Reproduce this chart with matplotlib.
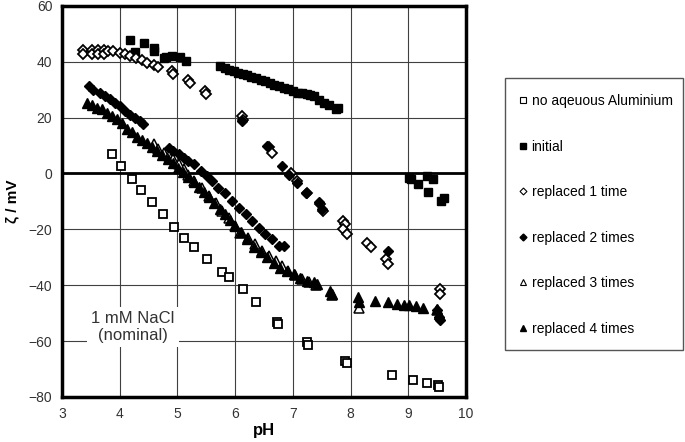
import matplotlib
matplotlib.use("Agg")
import matplotlib.pyplot as plt
from matplotlib.lines import Line2D
from matplotlib.patches import Rectangle

plt.rcParams['font.family'] = ['Liberation Sans', 'DejaVu Sans']

# --- data ---
no_al_x = [3.86, 4.03, 4.21, 4.37, 4.56, 4.75, 4.94, 5.12, 5.29, 5.51, 5.77, 5.90,
           6.14, 6.36, 6.73, 6.74, 7.24, 7.26, 7.91, 7.93, 8.72, 9.08, 9.33, 9.52, 9.53]
no_al_y = [6.8, 2.8, -1.9, -6.0, -10.2, -14.6, -19.3, -23.0, -26.3, -30.5, -35.2, -37.0,
           -41.4, -46.0, -53.1, -53.8, -60.4, -61.3, -67.0, -68.0, -72.0, -73.9, -75.1, -75.6, -76.5]

initial_x = [4.17, 4.27, 4.42, 4.59, 4.60, 4.76, 4.80, 4.90, 5.05, 5.14,
             5.74, 5.82, 5.90, 5.98, 6.05, 6.13, 6.20, 6.28, 6.36, 6.44, 6.52, 6.60, 6.68, 6.76,
             6.84, 6.92, 7.00, 7.08, 7.16, 7.24, 7.30, 7.36, 7.45, 7.54, 7.62, 7.74, 7.78,
             9.01, 9.04, 9.17, 9.32, 9.34, 9.42, 9.57, 9.61]
initial_y = [47.6, 43.5, 46.7, 44.9, 43.7, 41.3, 41.5, 41.9, 41.5, 40.1,
             38.3, 37.7, 37.1, 36.6, 36.1, 35.6, 35.1, 34.6, 34.1, 33.6, 33.0, 32.4, 31.8, 31.2,
             30.6, 30.1, 29.5, 28.9, 28.6, 28.3, 28.0, 27.6, 26.2, 25.2, 24.5, 22.9, 23.5,
             -1.5, -1.9, -3.9, -1.0, -6.7, -2.1, -9.9, -8.7]

rep1_x = [3.37, 3.37, 3.52, 3.52, 3.63, 3.63, 3.72, 3.72, 3.80, 3.89, 4.00, 4.09, 4.18,
          4.28, 4.38, 4.48, 4.59, 4.67, 4.90, 4.92, 5.19, 5.21, 5.48, 5.50, 6.12, 6.14,
          6.58, 6.64, 6.96, 7.07, 7.25, 7.47, 7.52, 7.86, 7.91, 7.86, 7.94, 8.29, 8.35,
          8.61, 8.64, 9.55, 9.55]
rep1_y = [44.3, 42.6, 44.3, 42.6, 44.3, 42.6, 44.3, 42.6, 43.9, 43.7, 43.1, 42.7, 41.9,
          41.3, 40.7, 39.5, 38.9, 38.0, 36.8, 35.6, 33.6, 32.4, 29.6, 28.4, 20.4, 19.2,
          9.4, 7.4, 0.2, -2.8, -6.9, -11.0, -13.5, -17.0, -18.2, -20.0, -21.8, -24.8, -26.5,
          -30.7, -32.5, -41.4, -43.2]

rep2_x = [3.46, 3.54, 3.66, 3.75, 3.83, 3.92, 4.01, 4.09, 4.18, 4.27, 4.35, 4.41,
          4.85, 4.93, 5.02, 5.11, 5.19, 5.28, 5.40, 5.51, 5.60, 5.71, 5.83, 5.95, 6.06,
          6.18, 6.29, 6.41, 6.52, 6.64, 6.76, 6.84,
          6.12, 6.55, 6.81, 6.93, 7.07, 7.22, 7.45, 7.51, 8.64, 9.50, 9.53, 9.55]
rep2_y = [31.2, 30.0, 28.8, 27.6, 26.8, 25.2, 24.0, 22.5, 21.0, 19.9, 18.7, 17.5,
          9.2, 8.0, 6.8, 5.6, 4.4, 3.2, 0.8, -1.0, -2.8, -5.1, -7.1, -9.9, -12.3,
          -14.6, -17.0, -19.4, -21.8, -23.6, -26.0, -26.0,
          18.7, 9.8, 2.6, -0.4, -3.3, -6.9, -10.2, -12.9, -27.8, -49.0, -51.5, -52.5]

rep3_x = [4.59, 4.67, 4.76, 4.85, 4.93, 5.02, 5.11, 5.19, 5.28, 5.43, 5.54, 5.66, 5.77,
          5.89, 6.00, 6.09, 6.23, 6.35, 6.47, 6.58, 6.70, 6.81, 6.92, 7.04, 7.16, 7.28,
          7.40, 7.68, 8.15, 9.50]
rep3_y = [10.4, 8.6, 7.4, 6.2, 5.0, 3.2, 1.4, -0.4, -2.8, -5.1, -8.1, -10.5, -13.5,
          -15.8, -18.8, -21.2, -23.0, -25.4, -27.8, -29.5, -31.3, -33.1, -35.0, -36.5, -37.8, -39.0,
          -40.0, -43.5, -48.0, -49.0]

rep4_x = [3.43, 3.52, 3.60, 3.69, 3.78, 3.86, 3.95, 4.04, 4.12, 4.21,
          4.30, 4.38, 4.47, 4.56, 4.65, 4.74, 4.83, 4.92, 5.01, 5.10,
          5.19, 5.28, 5.37, 5.46, 5.55, 5.64, 5.73, 5.82, 5.91, 6.00,
          6.10, 6.21, 6.32, 6.44, 6.55, 6.67, 6.78, 6.90, 7.02, 7.13,
          7.25, 7.36, 7.42, 7.65, 7.68, 8.12, 8.15, 8.43, 8.64, 8.81,
          8.93, 9.01, 9.13, 9.26, 9.50, 9.53]
rep4_y = [25.2, 24.6, 23.5, 22.9, 21.7, 20.5, 19.3, 18.1, 16.0, 14.8,
          13.2, 11.9, 10.8, 9.4, 8.0, 6.6, 5.0, 3.6, 2.0, 0.4,
          -1.2, -3.0, -4.8, -6.6, -8.6, -10.6, -12.6, -14.6, -16.6, -18.8,
          -21.0, -23.4, -26.5, -28.3, -30.1, -31.9, -33.7, -34.9, -36.1, -37.3,
          -38.5, -39.0, -39.6, -42.0, -43.2, -44.4, -46.2, -45.6, -46.2, -46.8,
          -47.1, -47.1, -47.4, -48.0, -48.6, -50.4]

labels = ["no aqeuous Aluminium", "initial", "replaced 1 time",
          "replaced 2 times", "replaced 3 times", "replaced 4 times"]

fig = plt.figure(figsize=(6.85, 4.42), dpi=100)
ax = fig.add_axes([0.0905, 0.102, 0.590, 0.885])

ax.set_xlim(3, 10)
ax.set_ylim(-80, 60)
ax.set_xticks(range(3, 11))
ax.set_yticks(range(-80, 61, 20))
ax.grid(True, color="#404040", linewidth=0.8)
ax.set_axisbelow(True)
ax.axhline(0, color="black", linewidth=2, zorder=1.5)
ax.tick_params(length=0, labelsize=10, pad=7, labelcolor="#333333")
for s in ax.spines.values():
    s.set_linewidth(2.5)

ms = 6
ax.plot(no_al_x, no_al_y, ls="none", marker="s", ms=ms, mfc="white", mec="black", mew=1.3, zorder=3)
ax.plot(initial_x, initial_y, ls="none", marker="s", ms=ms, mfc="black", mec="black", zorder=3)
ax.plot(rep1_x, rep1_y, ls="none", marker="D", ms=ms - 0.5, mfc="white", mec="black", mew=1.3, zorder=3)
ax.plot(rep2_x, rep2_y, ls="none", marker="D", ms=ms - 0.5, mfc="black", mec="black", zorder=3)
ax.plot(rep3_x, rep3_y, ls="none", marker="^", ms=ms + 0.5, mfc="white", mec="black", mew=1.1, zorder=3)
ax.plot(rep4_x, rep4_y, ls="none", marker="^", ms=ms + 0.5, mfc="black", mec="black", zorder=3)

ax.text(4.23, -55, "1 mM NaCl\n(nominal)", ha="center", va="center", fontsize=12,
        color="#333333", linespacing=1.1,
        bbox=dict(facecolor="white", edgecolor="none", pad=3), zorder=4)

ax.set_xlabel("pH", fontsize=12, fontweight="bold", labelpad=2)
ax.set_ylabel("ζ / mV", fontsize=11, fontweight="bold", labelpad=7)

# legend box on the right
fig.patches.append(Rectangle((505 / 685, 1 - 350 / 442), 178 / 685, 272 / 442,
                             transform=fig.transFigure, facecolor="white",
                             edgecolor="#555555", linewidth=1))
handles = [
    Line2D([], [], ls="none", marker="s", ms=4, mfc="white", mec="black", mew=0.8),
    Line2D([], [], ls="none", marker="s", ms=4, mfc="black", mec="black"),
    Line2D([], [], ls="none", marker="D", ms=3.5, mfc="white", mec="black", mew=0.8),
    Line2D([], [], ls="none", marker="D", ms=3.5, mfc="black", mec="black"),
    Line2D([], [], ls="none", marker="^", ms=4.5, mfc="white", mec="black", mew=0.8),
    Line2D([], [], ls="none", marker="^", ms=4.5, mfc="black", mec="black"),
]
fig.legend(handles, labels, loc="upper left", bbox_to_anchor=(519 / 685, 1 - 94 / 442),
           frameon=False, fontsize=10, handlelength=0.6, handletextpad=0.3,
           labelspacing=2.27, borderpad=0, borderaxespad=0)

fig.savefig("out.png", dpi=100)
